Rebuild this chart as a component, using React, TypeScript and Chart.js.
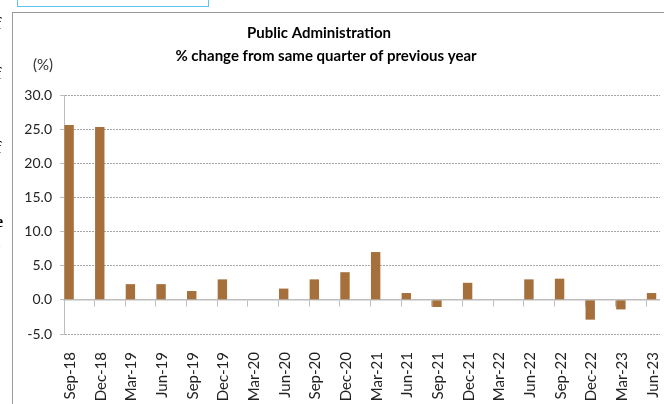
import React, { useEffect, useRef } from "react";
import { Chart, registerables } from "chart.js";

Chart.register(...registerables);

const categories = [
  "Sep-18", "Dec-18", "Mar-19", "Jun-19", "Sep-19", "Dec-19", "Mar-20", "Jun-20",
  "Sep-20", "Dec-20", "Mar-21", "Jun-21", "Sep-21", "Dec-21", "Mar-22", "Jun-22",
  "Sep-22", "Dec-22", "Mar-23", "Jun-23",
];

const publicAdminChange = [
  25.6, 25.3, 2.3, 2.3, 1.3, 3.0, null, 1.65, 3.0, 4.05,
  7.0, 1.0, -1.05, 2.5, null, 3.0, 3.1, -2.9, -1.4, 1.0,
];

const titleLines = ["Public Administration", "% change from same quarter of previous year"];
const unitLabel = "(%)";
const yMin = -5;
const yMax = 30;
const yStep = 5;

const FONT = "Lato, 'Open Sans', sans-serif";

const textPlugin = {
  id: "textPlugin",
  afterDraw(chart: any) {
    const ctx = chart.ctx;
    ctx.save();
    ctx.fillStyle = "#000";
    ctx.textAlign = "center";
    ctx.textBaseline = "middle";
    ctx.font = `bold 15px ${FONT}`;
    ctx.fillText(titleLines[0], 319, 33);
    ctx.fillText(titleLines[1], 326, 56);
    ctx.font = `15px ${FONT}`;
    ctx.fillStyle = "#333";
    ctx.fillText(unitLabel, 43, 65);
    ctx.restore();
  },
};

function ChartCanvas() {
  const ref = useRef<HTMLCanvasElement | null>(null);
  useEffect(() => {
    if (!ref.current) return;
    const chart = new Chart(ref.current, {
      type: "bar",
      data: {
        labels: categories,
        datasets: [
          {
            label: "Public Administration",
            data: publicAdminChange,
            backgroundColor: "#a5703c",
            borderWidth: 0,
            xAxisID: "x",
          },
          { label: "", data: [], xAxisID: "x" },
          { label: "", data: [], xAxisID: "x" },
        ],
      },
      options: {
        responsive: false,
        animation: false,
        devicePixelRatio: 1,
        categoryPercentage: 1,
        barPercentage: 0.92,
        layout: { padding: { top: 95, right: 10, left: 0, bottom: 0 } },
        plugins: {
          legend: { display: false },
          title: { display: false },
          tooltip: { enabled: false },
        },
        scales: {
          x: {
            type: "category",
            position: "bottom",
            offset: true,
            grid: { display: false, offset: true },
            border: { display: false },
            ticks: {
              autoSkip: false,
              minRotation: 90,
              maxRotation: 90,
              labelOffset: -9,
              padding: 10,
              color: "#222",
              font: { family: FONT, size: 15 },
            },
            afterFit(scale: any) {
              scale.height = 70;
            },
          },
          x0: {
            type: "category",
            position: { y: 0 },
            offset: true,
            grid: {
              offset: true,
              drawOnChartArea: false,
              drawTicks: true,
              tickLength: 6,
              color: "#bdbdbd",
            },
            border: { display: true, color: "#bdbdbd", width: 1.5 },
            ticks: { display: false },
          },
          y: {
            min: yMin,
            max: yMax,
            ticks: {
              stepSize: yStep,
              padding: 8,
              color: "#222",
              font: { family: FONT, size: 14 },
              callback: (v: any) => Number(v).toFixed(1),
            },
            grid: { color: "#a6a6a6", tickLength: 4, tickColor: "#bdbdbd" },
            border: { display: true, color: "#bdbdbd", dash: [2, 1] },
            afterFit(scale: any) {
              scale.width = 64;
            },
          },
        },
      },
      plugins: [textPlugin],
    } as any);
    return () => chart.destroy();
  }, []);
  return <canvas ref={ref} width={690} height={404} style={{ display: "block" }} />;
}

const fragStyle: React.CSSProperties = {
  position: "absolute",
  left: -4,
  fontFamily: "'Liberation Serif', serif",
  fontWeight: "bold",
  fontSize: 16,
  lineHeight: "16px",
  color: "#000",
};

export default function App() {
  return (
    <div style={{ position: "absolute", left: 0, top: 0, width: 664, height: 404, overflow: "hidden", background: "#fff" }}>
      <div style={{ position: "absolute", left: 0, top: 0, width: 660, height: 404, overflow: "hidden" }}>
        <ChartCanvas />
      </div>
      {/* surrounding page fragments */}
      <div style={{ position: "absolute", left: 17, top: -2, width: 190, height: 8, border: "1px solid #5cc4ee", borderTop: "none" }} />
      <div style={{ position: "absolute", left: 12, top: 12, width: 700, height: 500, borderLeft: "1px solid #9a9a9a", borderTop: "1px solid #9a9a9a" }} />
      <span style={{ ...fragStyle, top: 16 }}>f</span>
      <span style={{ ...fragStyle, top: 56 }}>.</span>
      <span style={{ ...fragStyle, top: 66 }}>f</span>
      <span style={{ ...fragStyle, top: 88 }}>.</span>
      <span style={{ ...fragStyle, top: 140 }}>f</span>
      <span style={{ ...fragStyle, top: 214 }}>e</span>
      <span style={{ ...fragStyle, top: 234 }}>l</span>
      <span style={{ ...fragStyle, top: 262 }}>.</span>
    </div>
  );
}
